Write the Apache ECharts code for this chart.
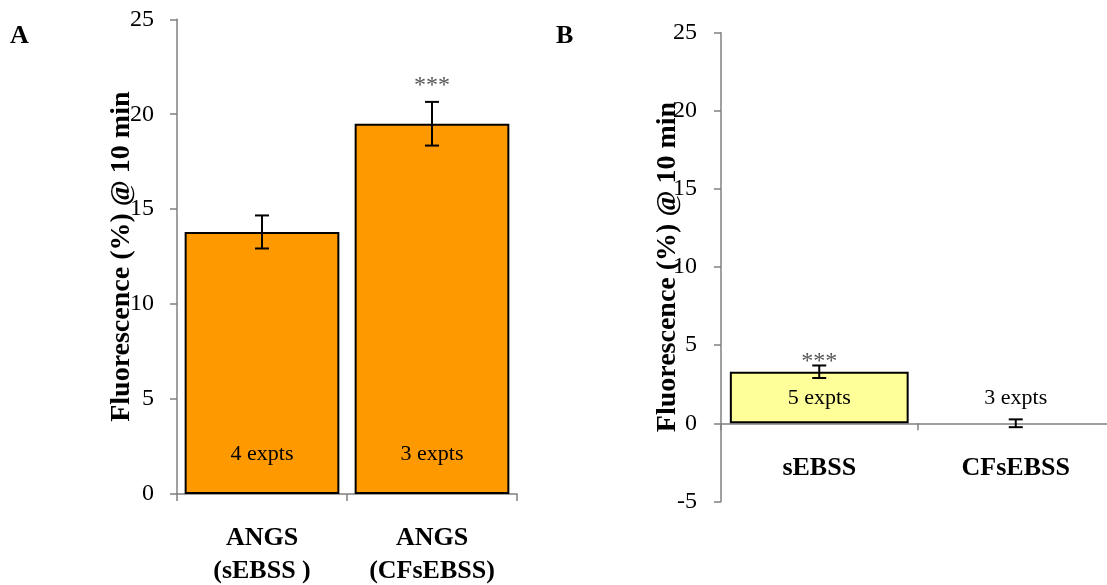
<!DOCTYPE html>
<html>
<head>
<meta charset="utf-8">
<title>Fluorescence @ 10 min</title>
<script src="https://cdn.jsdelivr.net/npm/echarts@6/dist/echarts.min.js"></script>
<style>
  html, body { margin: 0; padding: 0; background: #fff; }
  #chart { width: 1107px; height: 585px; }
</style>
</head>
<body>
<div id="chart"></div>
<script>
// Panel A: ANGS in sEBSS vs CFsEBSS
const catsA = ['ANGS\n(sEBSS )', 'ANGS\n(CFsEBSS)'];
const meanA = [13.8, 19.5];
const errA = [0.87, 1.15];
const nA = ['4 expts', '3 expts'];
const sigA = ['', '***'];

// Panel B: sEBSS vs CFsEBSS
const catsB = ['sEBSS', 'CFsEBSS'];
const meanB = [3.3, 0.0];
const errB = [0.4, 0.25];
const nB = ['5 expts', '3 expts'];
const sigB = ['***', ''];

// Y axis ranges
const yA = { min: 0, max: 25, interval: 5 };
const yB = { min: -5, max: 25, interval: 5 };

const SERIF = '"Liberation Serif", "DejaVu Serif", serif';
const AXIS_GREY = '#808080';
const yTitle = 'Fluorescence (%) @ 10 min';

const gridA = { left: 177, top: 19.3, width: 340, height: 474.7, outerBoundsMode: 'none', containLabel: false };
const gridB = { left: 721, top: 32.7, width: 393, height: 468.7, outerBoundsMode: 'none', containLabel: false };

// Shift a bottom category axis up so it sits at value 0 of its y range
function zeroOffset(range, grid) {
  if (range.min >= 0) return 0;
  return -(-range.min) / (range.max - range.min) * grid.height;
}

function catAxis(gridIndex, cats, margin, offset) {
  return {
    type: 'category', gridIndex, data: cats,
    offset,
    axisLine: { onZero: false, lineStyle: { color: AXIS_GREY, width: 1.5 } },
    axisTick: { show: true, length: 7, alignWithLabel: false, lineStyle: { color: AXIS_GREY, width: 1.5 } },
    axisLabel: {
      margin, color: '#000', fontFamily: SERIF, fontWeight: 'bold',
      fontSize: 26, lineHeight: 33
    }
  };
}

function valAxis(gridIndex, range, labelMargin, nameGap) {
  return {
    type: 'value', gridIndex,
    min: range.min, max: range.max, interval: range.interval,
    name: yTitle, nameLocation: 'middle', nameGap, nameMoveOverlap: false,
    nameTextStyle: { color: '#000', fontFamily: SERIF, fontWeight: 'bold', fontSize: 28 },
    axisLine: { show: true, lineStyle: { color: AXIS_GREY, width: 1.5 } },
    axisTick: { show: true, length: 7, lineStyle: { color: AXIS_GREY, width: 1.5 } },
    splitLine: { show: false },
    axisLabel: { margin: labelMargin, color: '#000', fontFamily: SERIF, fontSize: 24 }
  };
}

function barSeries(idx, values, counts, color, countDist) {
  return {
    type: 'bar', xAxisIndex: idx, yAxisIndex: idx,
    // a zero-height bar shows no outline
    data: values.map(v => v === 0 ? { value: v, itemStyle: { borderWidth: 0 } } : v),
    barCategoryGap: '9%',
    itemStyle: { color, borderColor: '#000', borderWidth: 2 },
    label: {
      show: true, position: 'insideBottom', distance: countDist,
      formatter: p => counts[p.dataIndex],
      color: '#000', fontFamily: SERIF, fontSize: 22
    },
    emphasis: { disabled: true },
    z: 2
  };
}

// Error bars with caps, plus significance marks above the upper cap
function errorSeries(idx, means, errs, sigs, starLift) {
  return {
    type: 'custom', xAxisIndex: idx, yAxisIndex: idx, z: 5,
    data: means.map((m, i) => [i, m - errs[i], m + errs[i]]),
    encode: { x: 0, y: [1, 2] },
    renderItem(params, api) {
      const c = api.value(0);
      const lo = api.coord([c, api.value(1)]);
      const hi = api.coord([c, api.value(2)]);
      const half = 7;
      const st = { stroke: '#000', lineWidth: 2 };
      const children = [
        { type: 'line', shape: { x1: lo[0], y1: lo[1], x2: hi[0], y2: hi[1] }, style: st },
        { type: 'line', shape: { x1: hi[0] - half, y1: hi[1], x2: hi[0] + half, y2: hi[1] }, style: st },
        { type: 'line', shape: { x1: lo[0] - half, y1: lo[1], x2: lo[0] + half, y2: lo[1] }, style: st }
      ];
      const s = sigs[params.dataIndex];
      if (s) {
        children.push({
          type: 'text',
          style: {
            text: s, x: hi[0], y: hi[1] - starLift,
            align: 'center', verticalAlign: 'middle',
            fill: '#555', font: '24px ' + SERIF
          }
        });
      }
      return { type: 'group', children };
    }
  };
}

const chart = echarts.init(document.getElementById('chart'), null, { renderer: 'canvas' });

chart.setOption({
  backgroundColor: '#fff',
  animation: false,
  graphic: [
    { type: 'text', left: 10, top: 23, style: { text: 'A', font: 'bold 26px ' + SERIF, fill: '#000' } },
    { type: 'text', left: 556, top: 23, style: { text: 'B', font: 'bold 26px ' + SERIF, fill: '#000' } }
  ],
  grid: [gridA, gridB],
  xAxis: [
    catAxis(0, catsA, 28, zeroOffset(yA, gridA)),
    catAxis(1, catsB, 28, zeroOffset(yB, gridB))
  ],
  yAxis: [valAxis(0, yA, 23, 41), valAxis(1, yB, 24, 39)],
  series: [
    barSeries(0, meanA, nA, '#FF9900', 29),
    errorSeries(0, meanA, errA, sigA, 16),
    barSeries(1, meanB, nB, '#FFFF99', 14),
    errorSeries(1, meanB, errB, sigB, 4)
  ]
});
</script>
</body>
</html>
